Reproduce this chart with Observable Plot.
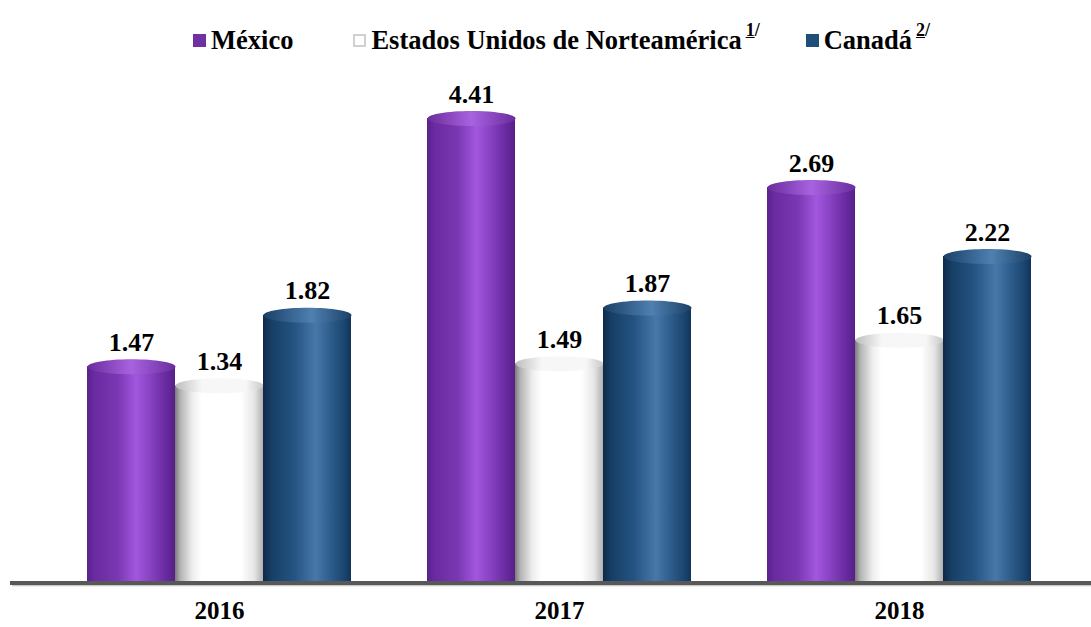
<!DOCTYPE html>
<html><head><meta charset="utf-8">
<script src="https://cdn.jsdelivr.net/npm/d3@7"></script>
<script src="https://cdn.jsdelivr.net/npm/@observablehq/plot@0.6"></script>
<style>
html,body{margin:0;padding:0;background:#fff;}
body{width:1091px;height:627px;overflow:hidden;font-family:"Liberation Serif","Times New Roman",serif;}
#legend{height:60px;box-sizing:border-box;padding-top:20px;padding-left:193px;display:flex;align-items:center;font-weight:bold;font-size:26.5px;line-height:30px;color:#000;white-space:nowrap;}
#legend .item{display:flex;align-items:center;}
#legend .sw{display:inline-block;width:13px;height:13px;margin-right:5px;box-sizing:border-box;}
#legend sup{font-size:18px;position:relative;top:-10px;margin-left:4px;line-height:0;}
#chart svg{display:block;}
</style></head><body>
<svg width="0" height="0" style="position:absolute">
<defs>
<linearGradient id="g0" x1="0" x2="1" y1="0" y2="0">
<stop offset="0" stop-color="#58228c"/><stop offset="0.08" stop-color="#6a2aa0"/><stop offset="0.35" stop-color="#7a37b2"/>
<stop offset="0.56" stop-color="#a257de"/><stop offset="0.7" stop-color="#8b44c6"/><stop offset="0.88" stop-color="#6c2ca3"/><stop offset="1" stop-color="#55208a"/>
</linearGradient>
<linearGradient id="g1" x1="0" x2="1" y1="0" y2="0">
<stop offset="0" stop-color="#7a7a7a"/><stop offset="0.06" stop-color="#b3b3b3"/><stop offset="0.2" stop-color="#eeeeee"/>
<stop offset="0.3" stop-color="#ffffff"/><stop offset="0.75" stop-color="#ffffff"/><stop offset="0.9" stop-color="#e6e6e6"/><stop offset="1" stop-color="#b0b0b0"/>
</linearGradient>
<linearGradient id="g2" x1="0" x2="1" y1="0" y2="0">
<stop offset="0" stop-color="#0d2a48"/><stop offset="0.1" stop-color="#173f66"/><stop offset="0.35" stop-color="#245382"/>
<stop offset="0.6" stop-color="#4778a9"/><stop offset="0.76" stop-color="#2e5e8d"/><stop offset="0.92" stop-color="#1b4670"/><stop offset="1" stop-color="#12355a"/>
</linearGradient>
<linearGradient id="c0" x1="0" x2="1" y1="0" y2="0">
<stop offset="0" stop-color="#6a2d9c"/><stop offset="0.5" stop-color="#a862e0"/><stop offset="1" stop-color="#6a2d9c"/>
</linearGradient>
<linearGradient id="c1" x1="0" x2="1" y1="0" y2="0">
<stop offset="0" stop-color="#bdbdbd"/><stop offset="0.3" stop-color="#f7f7f7"/><stop offset="0.8" stop-color="#f7f7f7"/><stop offset="1" stop-color="#c8c8c8"/>
</linearGradient>
<linearGradient id="c2" x1="0" x2="1" y1="0" y2="0">
<stop offset="0" stop-color="#1a4068"/><stop offset="0.55" stop-color="#4f80b0"/><stop offset="1" stop-color="#1a4068"/>
</linearGradient>
</defs>
</svg>
<div id="legend"></div>
<div id="chart"></div>
<script>
// ---- data ----
const years = ["2016", "2017", "2018"];
const series = ["México", "Estados Unidos de Norteamérica", "Canadá"];
const mexico = [1.47, 4.41, 2.69];
const estadosUnidos = [1.34, 1.49, 1.65];
const canada = [1.82, 1.87, 2.22];
const notes = ["", "1/", "2/"];
const yTop = 3.16; // the original truncates the tallest bar at this visible height

const valuesBySeries = [mexico, estadosUnidos, canada];
const data = years.flatMap((year, i) =>
  series.map((s, k) => ({year, series: s, value: valuesBySeries[k][i]}))
);

// ---- legend ----
const swatch = ["background:#7030a0", "background:#fff;border:2px solid #d0d0d0", "background:#1f4e79"];
const gaps = [60, 46, 0];
document.getElementById("legend").innerHTML = series.map((s, k) =>
  `<span class="item" style="margin-right:${gaps[k]}px"><span class="sw" style="${swatch[k]}"></span>${s}${notes[k] ? `<sup><u>${notes[k][0]}</u>${notes[k].slice(1)}</sup>` : ""}</span>`
).join("");

// ---- cylinder cap symbol (ellipse) ----
const capSymbol = {
  draw(ctx) {
    const rx = 44, ry = 7.5, c = 0.5523;
    ctx.moveTo(rx, 0);
    ctx.bezierCurveTo(rx, ry * c, rx * c, ry, 0, ry);
    ctx.bezierCurveTo(-rx * c, ry, -rx, ry * c, -rx, 0);
    ctx.bezierCurveTo(-rx, -ry * c, -rx * c, -ry, 0, -ry);
    ctx.bezierCurveTo(rx * c, -ry, rx, -ry * c, rx, 0);
    ctx.closePath();
  }
};

const marks = [];
series.forEach((s, k) => {
  const rows = data.filter(d => d.series === s);
  marks.push(Plot.barY(rows, {fx: "year", x: "series", y: "value", fill: `url(#g${k})`}));
  marks.push(Plot.dot(rows, {fx: "year", x: "series", y: "value", symbol: capSymbol, r: 10, fill: `url(#c${k})`, stroke: "none"}));
});
marks.push(Plot.text(data, {
  fx: "year", x: "series", y: "value",
  text: d => d.value.toFixed(2),
  dy: -16, lineAnchor: "bottom",
  fontSize: 26, fontWeight: "bold", fill: "#000"
}));

const plot = Plot.plot({
  width: 1091,
  height: 567,
  marginTop: 58,
  marginBottom: 45,
  marginLeft: 49,
  marginRight: 22,
  style: {fontFamily: '"Liberation Serif","Times New Roman",serif', fontSize: "25px", fontWeight: "bold", color: "#000", background: "#fff"},
  fx: {domain: years, paddingInner: 0.224, paddingOuter: 0.112, label: null, tickSize: 0, tickPadding: 19},
  x: {domain: series, padding: 0, axis: null},
  y: {domain: [0, yTop], clamp: true, axis: null},
  marks
});
document.getElementById("chart").appendChild(plot);

// baseline (floor) drawn at y = 0 from the plot's own scale
const y0 = plot.scale("y").apply(0);
const svg = d3.select(plot);
svg.append("line").attr("x1", 12).attr("x2", 1091).attr("y1", y0 + 3.5).attr("y2", y0 + 3.5)
  .attr("stroke", "#c8c8c8").attr("stroke-width", 1.5);
svg.append("line").attr("x1", 10).attr("x2", 1091).attr("y1", y0 + 1).attr("y2", y0 + 1)
  .attr("stroke", "#585858").attr("stroke-width", 4);
</script>
</body></html>
